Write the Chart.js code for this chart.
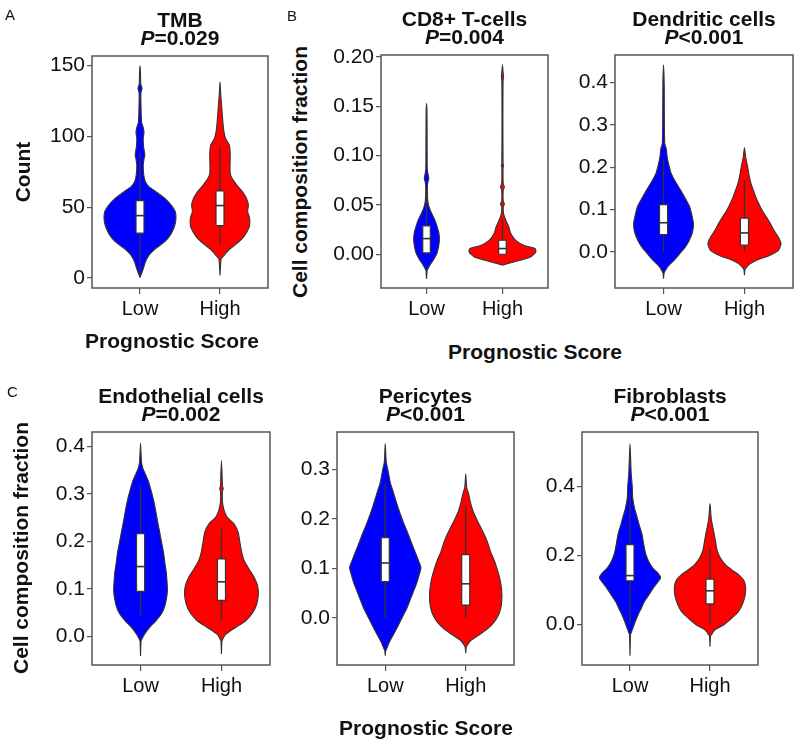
<!DOCTYPE html>
<html>
<head>
<meta charset="utf-8">
<script src="https://cdn.jsdelivr.net/npm/chart.js@4.4.0/dist/chart.umd.min.js"></script>
<style>
  body { margin: 0; background: #fff; font-family: "Liberation Sans", Arial, sans-serif; }
  #fig { position: relative; width: 800px; height: 747px; overflow: hidden; }
  canvas { position: absolute; }
  .lbl { position: absolute; color: #111; white-space: nowrap; }
  .ttl { font-weight: bold; font-size: 21px; line-height: 18px; text-align: center; transform: translateX(-50%); }
  .axt { font-weight: bold; font-size: 21px; line-height: 24px; transform: translate(-50%, -50%); }
  .rot { transform: translate(-50%, -50%) rotate(-90deg); }
  .letter { font-size: 15px; line-height: 15px; }
</style>
</head>
<body>
<div id="fig"></div>
<script>
// groups on the x axis
const groups = ["Low", "High"];

// TMB
const tmbTicks = [0, 50, 100, 150];
const tmbLowLevels = [0.5, 4, 7, 11.7, 16.4, 21, 25.8, 30.5, 36.4, 42.3, 47, 51.6, 56.3, 61, 64.6, 68, 72.8, 80, 84, 87, 92.7, 98.6, 103, 106.8, 110, 122, 131, 134, 137, 145, 150];
const tmbLowWidths = [0, 0.025, 0.043, 0.07, 0.115, 0.2, 0.31, 0.38, 0.43, 0.45, 0.44, 0.39, 0.31, 0.2, 0.11, 0.068, 0.047, 0.04, 0.05, 0.06, 0.045, 0.04, 0.05, 0.038, 0.02, 0.012, 0.012, 0.025, 0.01, 0.006, 0];
const tmbLowStats = [0.5, 31.7, 44.1, 54.7, 89]; // whisker low, q1, median, q3, whisker high
const tmbHighLevels = [1.9, 8, 13.6, 16.4, 20, 23.5, 28, 32.9, 37, 42.3, 47, 51.6, 56.3, 61, 65.7, 70.4, 74, 77.5, 86.9, 93.9, 98.6, 103, 110, 122, 129, 133, 138.5];
const tmbHighWidths = [0, 0.006, 0.015, 0.057, 0.11, 0.19, 0.28, 0.34, 0.37, 0.37, 0.345, 0.355, 0.33, 0.28, 0.21, 0.15, 0.128, 0.125, 0.128, 0.117, 0.07, 0.05, 0.036, 0.02, 0.01, 0.006, 0];
const tmbHighStats = [23.5, 37.1, 51.2, 61.5, 92];

// CD8+ T-cells
const cd8Ticks = [0, 0.05, 0.1, 0.15, 0.2];
const cd8LowLevels = [-0.025, -0.018, -0.016, -0.011, -0.006, 0.0007, 0.0075, 0.014, 0.021, 0.028, 0.0345, 0.041, 0.048, 0.055, 0.07, 0.074, 0.077, 0.081, 0.086, 0.105, 0.143, 0.153];
const cd8LowWidths = [0, 0.006, 0.01, 0.044, 0.088, 0.136, 0.158, 0.169, 0.164, 0.14, 0.11, 0.07, 0.033, 0.015, 0.012, 0.02, 0.03, 0.02, 0.01, 0.008, 0.006, 0];
const cd8LowStats = [0, 0.0014, 0.0159, 0.0288, 0.068];
const cd8HighLevels = [-0.011, -0.0078, -0.0027, 0.0024, 0.0058, 0.009, 0.014, 0.021, 0.028, 0.0345, 0.041, 0.048, 0.051, 0.054, 0.065, 0.068, 0.072, 0.088, 0.09, 0.092, 0.14, 0.176, 0.18, 0.185, 0.192];
const cd8HighWidths = [0, 0.15, 0.37, 0.44, 0.43, 0.285, 0.175, 0.11, 0.083, 0.044, 0.015, 0.01, 0.025, 0.01, 0.01, 0.025, 0.01, 0.008, 0.015, 0.008, 0.006, 0.008, 0.014, 0.008, 0];
const cd8HighStats = [0, 0.0, 0.0058, 0.0142, 0.035];

// Dendritic cells
const dcTicks = [0, 0.1, 0.2, 0.3, 0.4];
const dcLowLevels = [-0.063, -0.05, -0.047, -0.035, -0.02, -0.004, 0.012, 0.028, 0.047, 0.067, 0.087, 0.106, 0.126, 0.146, 0.165, 0.185, 0.205, 0.224, 0.244, 0.256, 0.319, 0.398, 0.441];
const dcLowWidths = [0, 0.006, 0.012, 0.05, 0.128, 0.2, 0.27, 0.32, 0.358, 0.37, 0.35, 0.325, 0.27, 0.21, 0.15, 0.095, 0.066, 0.045, 0.033, 0.015, 0.01, 0.008, 0];
const dcLowStats = [0, 0.041, 0.069, 0.112, 0.218];
const dcHighLevels = [-0.055, -0.042, -0.035, -0.028, -0.02, -0.008, 0.004, 0.02, 0.035, 0.051, 0.067, 0.083, 0.098, 0.114, 0.13, 0.146, 0.161, 0.177, 0.2, 0.224, 0.246];
const dcHighWidths = [0, 0.006, 0.03, 0.07, 0.144, 0.31, 0.42, 0.452, 0.42, 0.365, 0.32, 0.27, 0.22, 0.177, 0.14, 0.11, 0.082, 0.062, 0.04, 0.015, 0];
const dcHighStats = [0, 0.016, 0.045, 0.08, 0.17];

// Endothelial cells
const endoTicks = [0, 0.1, 0.2, 0.3, 0.4];
const endoLowLevels = [-0.041, -0.01, -0.0056, 0.005, 0.019, 0.033, 0.047, 0.061, 0.079, 0.096, 0.114, 0.135, 0.156, 0.177, 0.198, 0.219, 0.24, 0.262, 0.283, 0.304, 0.325, 0.342, 0.353, 0.367, 0.406];
const endoLowWidths = [0, 0.006, 0.015, 0.05, 0.112, 0.19, 0.255, 0.295, 0.32, 0.332, 0.328, 0.318, 0.3, 0.284, 0.26, 0.237, 0.213, 0.19, 0.166, 0.135, 0.1, 0.058, 0.03, 0.012, 0];
const endoLowStats = [0.044, 0.095, 0.147, 0.216, 0.318];
const endoHighLevels = [-0.037, -0.01, -0.0056, 0.005, 0.019, 0.033, 0.051, 0.068, 0.089, 0.107, 0.124, 0.142, 0.16, 0.177, 0.198, 0.219, 0.237, 0.251, 0.265, 0.283, 0.305, 0.311, 0.317, 0.339, 0.37];
const endoHighWidths = [0, 0.006, 0.015, 0.056, 0.176, 0.3, 0.39, 0.436, 0.456, 0.446, 0.405, 0.34, 0.28, 0.25, 0.228, 0.207, 0.155, 0.07, 0.033, 0.012, 0.012, 0.022, 0.012, 0.008, 0];
const endoHighStats = [0.033, 0.076, 0.115, 0.163, 0.226];

// Pericytes
const periTicks = [0, 0.1, 0.2, 0.3];
const periLowLevels = [-0.076, -0.066, -0.063, -0.049, -0.032, -0.0155, 0.001, 0.018, 0.035, 0.052, 0.069, 0.086, 0.102, 0.119, 0.136, 0.153, 0.17, 0.187, 0.204, 0.22, 0.237, 0.254, 0.271, 0.288, 0.301, 0.315, 0.352];
const periLowWidths = [0, 0.006, 0.015, 0.05, 0.107, 0.16, 0.21, 0.264, 0.306, 0.347, 0.388, 0.42, 0.443, 0.405, 0.365, 0.323, 0.283, 0.24, 0.2, 0.165, 0.132, 0.1, 0.066, 0.045, 0.03, 0.012, 0];
const periLowStats = [0, 0.0735, 0.111, 0.162, 0.274];
const periHighLevels = [-0.071, -0.06, -0.056, -0.046, -0.036, -0.022, -0.009, 0.008, 0.025, 0.045, 0.065, 0.082, 0.099, 0.116, 0.133, 0.15, 0.167, 0.183, 0.2, 0.217, 0.234, 0.251, 0.264, 0.291];
const periHighWidths = [0, 0.006, 0.015, 0.058, 0.15, 0.27, 0.35, 0.413, 0.442, 0.45, 0.44, 0.42, 0.39, 0.355, 0.31, 0.277, 0.235, 0.186, 0.134, 0.088, 0.058, 0.035, 0.012, 0];
const periHighStats = [0, 0.026, 0.069, 0.128, 0.227];

// Fibroblasts
const fibroTicks = [0, 0.2, 0.4];
const fibroLowLevels = [-0.091, -0.03, -0.026, -0.012, 0.008, 0.027, 0.046, 0.066, 0.085, 0.104, 0.123, 0.135, 0.147, 0.162, 0.181, 0.205, 0.234, 0.263, 0.287, 0.311, 0.335, 0.364, 0.403, 0.437, 0.48, 0.523];
const fibroLowWidths = [0, 0.006, 0.012, 0.035, 0.066, 0.1, 0.14, 0.18, 0.235, 0.288, 0.35, 0.383, 0.354, 0.288, 0.235, 0.195, 0.17, 0.148, 0.116, 0.088, 0.058, 0.035, 0.027, 0.015, 0.008, 0];
const fibroLowStats = [0, 0.126, 0.141, 0.231, 0.385];
const fibroHighLevels = [-0.065, -0.035, -0.031, -0.016, -0.002, 0.017, 0.037, 0.061, 0.085, 0.109, 0.128, 0.143, 0.157, 0.172, 0.191, 0.215, 0.244, 0.268, 0.287, 0.307, 0.35];
const fibroHighWidths = [0, 0.006, 0.015, 0.062, 0.17, 0.27, 0.358, 0.41, 0.44, 0.445, 0.42, 0.36, 0.276, 0.195, 0.132, 0.088, 0.066, 0.047, 0.03, 0.015, 0];
const fibroHighStats = [0, 0.059, 0.097, 0.131, 0.22];

const FONT = '"Liberation Sans", Arial, sans-serif';
const colors = ["#0000ff", "#ff0000"];
const lineCol = "#333333";
const boxHalf = 0.05;
const yAxisW = 60;
const xAxisH = 40;
const padTop = 15;
const padRight = 10;

// box round each panel
const frame = {
  id: "frame",
  afterDatasetsDraw(chart) {
    const a = chart.chartArea;
    const ctx = chart.ctx;
    ctx.save();
    ctx.strokeStyle = "#555";
    ctx.lineWidth = 1.5;
    ctx.strokeRect(a.left, a.top, a.right - a.left, a.bottom - a.top);
    ctx.restore();
  },
};

function violinSets(levels, widths, stats, i) {
  const c = i + 1;
  const outline = levels.map((v, k) => ({ x: c + widths[k], y: v }));
  for (let k = levels.length - 2; k >= 0; k--) {
    outline.push({ x: c - widths[k], y: levels[k] });
  }
  return [
    { data: outline, fill: "shape", backgroundColor: colors[i], borderColor: lineCol, borderWidth: 1.1, tension: 0.2, order: 4 },
    { data: [{ x: c, y: stats[0] }, { x: c, y: stats[4] }], fill: false, borderColor: lineCol, borderWidth: 1.3, order: 3 },
    {
      data: [
        { x: c - boxHalf, y: stats[1] }, { x: c + boxHalf, y: stats[1] },
        { x: c + boxHalf, y: stats[3] }, { x: c - boxHalf, y: stats[3] },
        { x: c - boxHalf, y: stats[1] },
      ],
      fill: "shape", backgroundColor: "#ffffff", borderColor: lineCol, borderWidth: 1.2, tension: 0, order: 2,
    },
    { data: [{ x: c - boxHalf, y: stats[2] }, { x: c + boxHalf, y: stats[2] }], fill: false, borderColor: lineCol, borderWidth: 1.6, order: 1 },
  ];
}

function addText(html, cls, left, top) {
  const d = document.createElement("div");
  d.className = "lbl " + cls;
  d.style.left = left + "px";
  d.style.top = top + "px";
  d.innerHTML = html;
  document.getElementById("fig").appendChild(d);
}

function makePanel(p) {
  const [L, T, W, H] = p.box;
  const cv = document.createElement("canvas");
  cv.width = yAxisW + W + padRight;
  cv.height = padTop + H + xAxisH;
  cv.style.left = (L - yAxisW) + "px";
  cv.style.top = (T - padTop) + "px";
  document.getElementById("fig").appendChild(cv);

  const datasets = [
    ...violinSets(p.low[0], p.low[1], p.low[2], 0),
    ...violinSets(p.high[0], p.high[1], p.high[2], 1),
  ];

  new Chart(cv.getContext("2d"), {
    type: "line",
    data: { datasets: datasets },
    options: {
      responsive: false,
      animation: false,
      events: [],
      layout: { padding: { top: padTop, right: padRight, left: 0, bottom: 0 } },
      elements: { point: { radius: 0 } },
      plugins: { legend: { display: false }, tooltip: { enabled: false } },
      scales: {
        x: {
          type: "linear",
          min: 0.4,
          max: 2.6,
          afterBuildTicks: (ax) => { ax.ticks = groups.map((g, k) => ({ value: k + 1 })); },
          afterFit: (ax) => { ax.height = xAxisH; },
          ticks: {
            callback: (v) => groups[v - 1] || "",
            font: { size: 20, family: FONT },
            color: "#111",
            padding: 3,
            autoSkip: false,
            maxRotation: 0,
          },
          grid: { drawOnChartArea: false, tickLength: 6, color: "#555", lineWidth: 1.2 },
          border: { display: false },
        },
        y: {
          min: p.yMin,
          max: p.yMax,
          afterBuildTicks: (ax) => { ax.ticks = p.ticks.map((v) => ({ value: v })); },
          afterFit: (ax) => { ax.width = yAxisW; },
          ticks: {
            callback: (v) => Number(v).toFixed(p.dec),
            font: { size: 21, family: FONT },
            color: "#111",
            padding: 2,
          },
          grid: { drawOnChartArea: false, tickLength: 5, color: "#555", lineWidth: 1.2 },
          border: { display: false },
        },
      },
    },
    plugins: [frame],
  });

  addText(p.title + "<br><i>P</i>" + p.pval, "ttl", L + W / 2, T - 45);
}

const panels = [
  { box: [92, 56, 176, 232], yMin: -7, yMax: 156.8, ticks: tmbTicks, dec: 0, title: "TMB", pval: "=0.029",
    low: [tmbLowLevels, tmbLowWidths, tmbLowStats], high: [tmbHighLevels, tmbHighWidths, tmbHighStats] },
  { box: [381, 55, 167, 233], yMin: -0.0342, yMax: 0.202, ticks: cd8Ticks, dec: 2, title: "CD8+ T-cells", pval: "=0.004",
    low: [cd8LowLevels, cd8LowWidths, cd8LowStats], high: [cd8HighLevels, cd8HighWidths, cd8HighStats] },
  { box: [615, 55, 178, 233], yMin: -0.085, yMax: 0.465, ticks: dcTicks, dec: 1, title: "Dendritic cells", pval: "&lt;0.001",
    low: [dcLowLevels, dcLowWidths, dcLowStats], high: [dcHighLevels, dcHighWidths, dcHighStats] },
  { box: [92, 432, 178, 233], yMin: -0.06, yMax: 0.43, ticks: endoTicks, dec: 1, title: "Endothelial cells", pval: "=0.002",
    low: [endoLowLevels, endoLowWidths, endoLowStats], high: [endoHighLevels, endoHighWidths, endoHighStats] },
  { box: [337, 432, 177, 233], yMin: -0.095, yMax: 0.3755, ticks: periTicks, dec: 1, title: "Pericytes", pval: "&lt;0.001",
    low: [periLowLevels, periLowWidths, periLowStats], high: [periHighLevels, periHighWidths, periHighStats] },
  { box: [582, 432, 176, 233], yMin: -0.118, yMax: 0.557, ticks: fibroTicks, dec: 1, title: "Fibroblasts", pval: "&lt;0.001",
    low: [fibroLowLevels, fibroLowWidths, fibroLowStats], high: [fibroHighLevels, fibroHighWidths, fibroHighStats] },
];

panels.forEach(makePanel);

// axis titles and panel letters
addText("Count", "axt rot", 23, 172);
addText("Cell composition fraction", "axt rot", 300, 172);
addText("Cell composition fraction", "axt rot", 21, 548);
addText("Prognostic Score", "axt", 172, 341);
addText("Prognostic Score", "axt", 535, 352);
addText("Prognostic Score", "axt", 426, 728);
addText("A", "letter", 5, 7);
addText("B", "letter", 287, 8);
addText("C", "letter", 7, 384);
</script>
</body>
</html>
